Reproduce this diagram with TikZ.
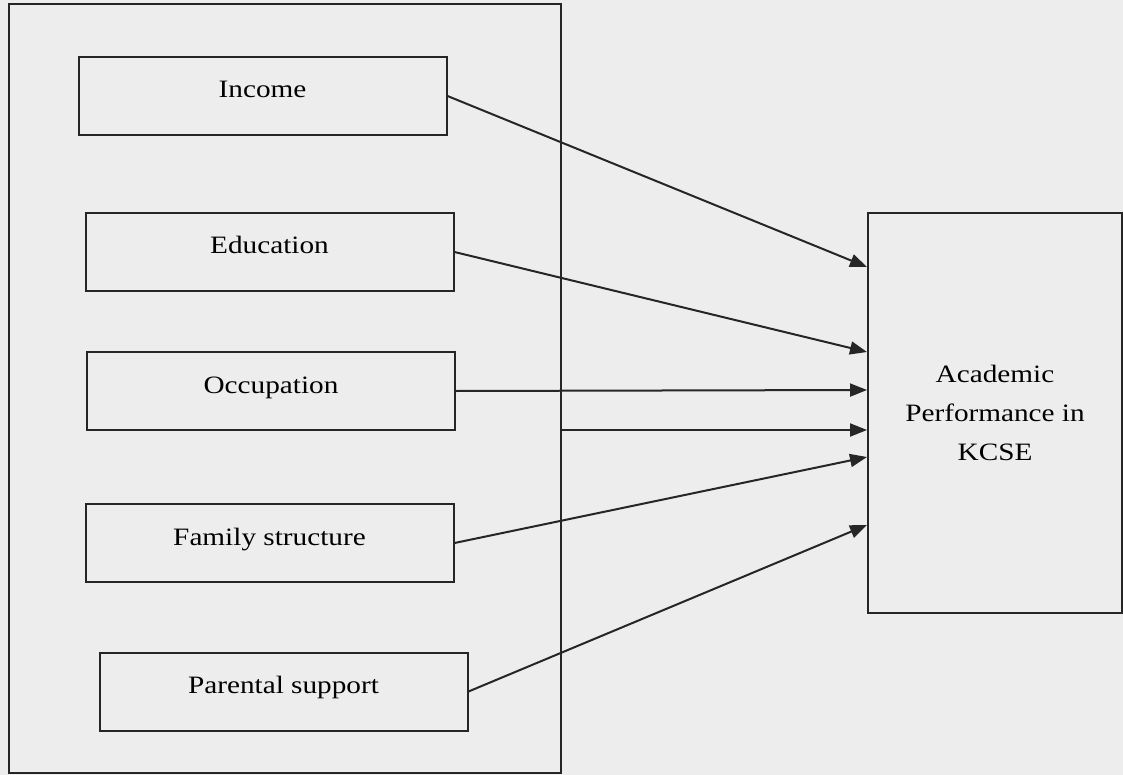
\documentclass[tikz,border=0pt]{standalone}
\usepackage{fontspec}
\setmainfont{Liberation Serif}[FakeStretch=1.17]
\usetikzlibrary{positioning,arrows.meta,backgrounds}

\begin{document}
\begin{tikzpicture}[
  x=1pt, y=-1pt,
  fator/.style={rectangle, draw=black!85, line width=2pt, fill=none,
                minimum width=368pt, minimum height=78pt, inner sep=0pt,
                text height=12pt, text depth=8pt,
                font=\fontsize{25}{39}\selectfont},
  alvo/.style={fator, minimum width=254pt, minimum height=400pt,
               text height=, text depth=, align=center},
  quadro/.style={rectangle, draw=black!85, line width=2pt,
                 minimum width=552pt, minimum height=769pt, inner sep=0pt},
  seta/.style={-{Triangle[length=17pt, width=13pt]}, line width=2pt, draw=black!85}
]

% ---------------- Folha ----------------
\fill[black!7] (0,0) rectangle (1123,775);

% ---------------- Fatores ----------------
\node[quadro] (grupo) at (285,388.5) {};
\node[fator] (income)     at (262.5,96)  {Income};
\node[fator] (education)  at (269.5,252) {Education};
\node[fator] (occupation) at (271,391)   {Occupation};
\node[fator] (family)     at (269.5,543) {Family structure};
\node[fator] (parental)   at (283.5,691.5) {Parental support};

% ---------------- Desempenho ----------------
\node[alvo] (kcse) at (995,413) {Academic\\Performance in\\KCSE};

% ---------------- Setas ----------------
\draw[seta] (income.east)     -- ([yshift=146pt]kcse.west);
\draw[seta] (education.east)  -- ([yshift=61pt]kcse.west);
\draw[seta] (occupation.east) -- ([yshift=23pt]kcse.west);
\draw[seta] ([yshift=-41.5pt]grupo.east) -- ([yshift=-17pt]kcse.west);
\draw[seta] (family.east)     -- ([yshift=-44pt]kcse.west);
\draw[seta] (parental.east)   -- ([yshift=-112pt]kcse.west);

\end{tikzpicture}
\end{document}
